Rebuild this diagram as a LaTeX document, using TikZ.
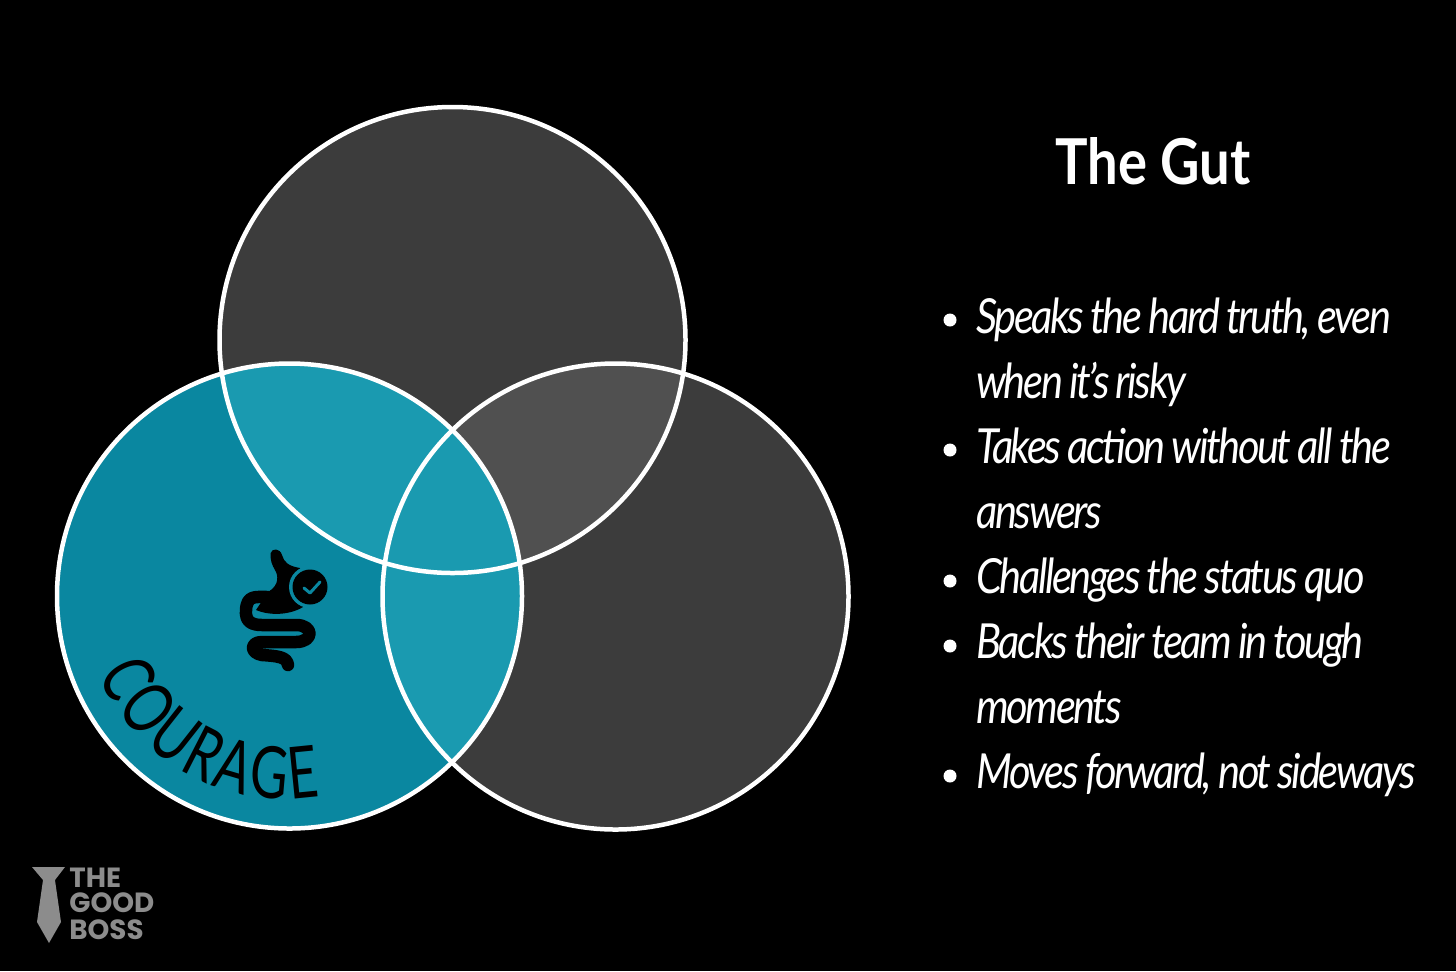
\documentclass[tikz,border=0pt]{standalone}
\usepackage{fontspec}
\usepackage{xcolor}
\usetikzlibrary{positioning,decorations.text}
\setmainfont{Lato}
\newfontfamily\bodyfont[FakeStretch=0.86,LetterSpace=-5,WordSpace=0.85]{Lato}
\newfontfamily\titlefont[FakeStretch=0.86]{Lato}
\newfontfamily\courfont[FakeStretch=0.72]{Lato}
\newfontfamily\logofont{Poppins}
\definecolor{Dark}{HTML}{3C3C3C}
\definecolor{DarkMix}{HTML}{505050}
\definecolor{Sea}{HTML}{0A87A0}
\definecolor{SeaMix}{HTML}{1A9AB0}
\definecolor{Logo}{HTML}{8C8C8C}

\begin{document}
\begin{tikzpicture}[x=.02cm,y=-.02cm,
        ring/.style={draw=white,line width=.09cm},
        line/.style={anchor=base west,text=white,inner sep=0pt,font=\bodyfont\itshape\fontsize{27.5}{30}\selectfont},
        dot/.style={circle,fill=white,inner sep=0pt,minimum size=.26cm},
        brand/.style={anchor=base west,text=Logo,inner sep=0pt,font=\logofont\bfseries\fontsize{15.8}{16}\selectfont},
        gut/.style={draw=black,line width=.25cm,line cap=round,line join=round}]
        \fill[black] (0,0) rectangle (1456,971);
        \useasboundingbox (0,0) rectangle (1456,971);
        \coordinate (topc) at (452.5,340);
        \coordinate (leftc) at (289.5,596);
        \coordinate (rightc) at (615.5,596.5);
        % fills
        \fill[Dark] (topc) circle[radius=233];
        \fill[Dark] (rightc) circle[radius=233];
        \begin{scope}
          \clip (topc) circle[radius=233];
          \fill[DarkMix] (rightc) circle[radius=233];
        \end{scope}
        \fill[Sea] (leftc) circle[radius=232.5];
        \begin{scope}
          \clip (leftc) circle[radius=232.5];
          \fill[SeaMix] (topc) circle[radius=233];
          \fill[SeaMix] (rightc) circle[radius=233];
        \end{scope}
        \draw[ring] (topc) circle[radius=233];
        \draw[ring] (leftc) circle[radius=232.5];
        \draw[ring] (rightc) circle[radius=233];
        % curved label
        \path[decorate,decoration={text along path,text align={fit to path},
          text={|\courfont\fontsize{41}{42}\selectfont|COURAGE}}]
          (98,674) .. controls (134,761.5) and (226.7,812.4) .. (320,796);
        % gut icon
        \fill[black] (270.7,553) .. controls (272,548) and (280,548) .. (282,555)
          .. controls (284,562) and (288,566) .. (300,568) -- (303,607)
          .. controls (290,615) and (270,616) .. (256,610) -- (268,592)
          .. controls (280,585) and (278,575) .. (275,570) .. controls (272,565) and (270,560) .. (270.7,553) -- cycle;
        \draw[gut] (268,597) .. controls (255,597) and (247,595) .. (246,610)
          .. controls (245,622) and (252,625) .. (262,625) -- (296,625)
          .. controls (314,625) and (314,642) .. (296,642) -- (262,642)
          .. controls (250,642) and (250,653) .. (262,655)
          .. controls (278,656) and (287,657) .. (288,665);
        \fill[Sea] (310,587) circle[radius=21];
        \fill[black] (310,587) circle[radius=17.5];
        \draw[Sea,line width=.06cm,line cap=round,line join=round] (304,588) -- (310,593) -- (320,582);
        % title
        \node[anchor=base,text=white,inner sep=0pt,font=\titlefont\bfseries\fontsize{36}{38}\selectfont] (title) at (1153,184) {The Gut};
        % list
        \foreach \i/\y/\t in {a/333/{Speaks the hard truth, even},b/398/{when it’s risky},c/463/{Takes action without all the},d/528/{answers},e/593/{Challenges the status quo},f/658/{Backs their team in tough},g/723/{moments},h/788/{Moves forward, not sideways}}
          \node[line] (l\i) at (976,\y) {\t};
        \foreach \i/\y in {a/320,c/450,e/581,f/646,h/776}
          \node[dot] (b\i) at (950,\y) {};
        % logo
        \fill[Logo] (32,867) -- (65,867) -- (55,880) -- (61,922) -- (49,943) -- (37,922) -- (43,880) -- cycle;
        \node[brand] (the) at (69,887) {THE};
        \node[brand] (good) at (69,912) {GOOD};
        \node[brand] (boss) at (69,939) {BOSS};
      \end{tikzpicture}
\end{document}
